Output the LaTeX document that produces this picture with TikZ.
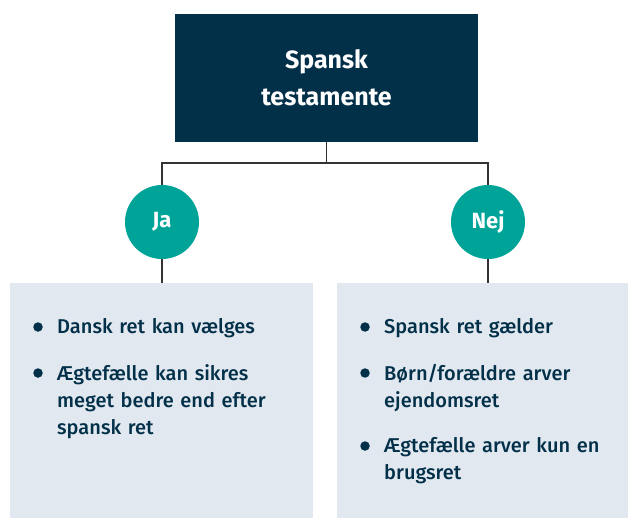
\documentclass[tikz,border=0pt]{standalone}
\usepackage{fontspec}
\setmainfont{Fira Sans}
\newfontfamily\medfont{Fira Sans Medium}
\definecolor{navy}{HTML}{033049}
\definecolor{teal}{HTML}{00A398}
\definecolor{panel}{HTML}{E1E8F0}
\definecolor{linec}{HTML}{333333}
\begin{document}
\begin{tikzpicture}[x=1pt,y=-1pt,
  topbox/.style={fill=navy,draw=none,minimum width=303pt,minimum height=128pt,inner sep=0pt,text=white,font=\fontsize{25}{37}\selectfont\bfseries,align=center},
  answer/.style={circle,fill=teal,minimum size=74pt,inner sep=0pt,text=white,font=\fontsize{22}{26}\selectfont\bfseries},
  panelbox/.style={fill=panel,draw=none,inner sep=0pt},
  conn/.style={draw=linec,line width=1.3pt},
  item/.style={anchor=north west,text=navy,font=\medfont\fontsize{20}{27}\selectfont,align=left,inner sep=0pt,text width=#1},
  dot/.style={circle,fill=navy,minimum size=9.5pt,inner sep=0pt}
]
\useasboundingbox (0,0) rectangle (628,518);
\node[topbox] (top) at (326.5,78) {Spansk\\testamente};
\node[answer] (ja) at (162,222) {Ja};
\node[answer] (nej) at (488,222) {Nej};
\path[panelbox] (10,283) rectangle (313,518);
\path[panelbox] (337,283) rectangle (628,518);
\coordinate (lp) at (162,283);
\coordinate (rp) at (488,283);
\coordinate (mid) at (326.5,163);
\draw[conn] (top.south) -- (mid);
\draw[conn] (ja.north) |- (mid) -| (nej.north);
\draw[conn] (ja.south) -- (lp);
\draw[conn] (nej.south) -- (rp);
% left items
\node[dot] (d1) at (38,327) {};
\node[item=250pt] (t1) at (57,318) {Dansk ret kan vælges};
\node[dot] (d2) at (38,373) {};
\node[item=240pt] (t2) at (57,364) {Ægtefælle kan sikres\\meget bedre end efter\\spansk ret};
% right items
\node[dot] (d3) at (365,327) {};
\node[item=240pt] (t3) at (384,318) {Spansk ret gælder};
\node[dot] (d4) at (365,373) {};
\node[item=240pt] (t4) at (384,364) {Børn/forældre arver\\ejendomsret};
\node[dot] (d5) at (365,446) {};
\node[item=240pt] (t5) at (384,437) {Ægtefælle arver kun en\\brugsret};
\end{tikzpicture}
\end{document}
